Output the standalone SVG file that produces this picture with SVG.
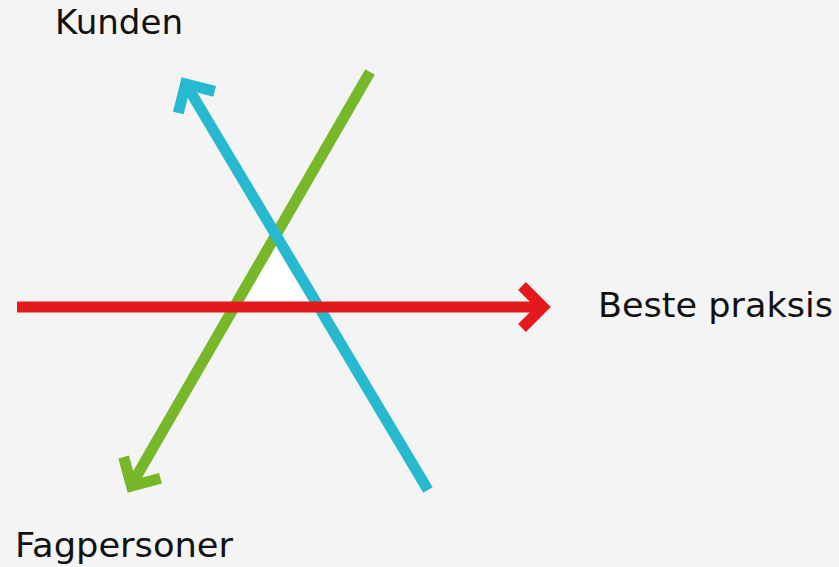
<svg xmlns="http://www.w3.org/2000/svg" width="839" height="567" viewBox="0 0 839 567">
<style>
.ln{fill:none;stroke-width:11;stroke-linecap:butt;stroke-linejoin:miter;stroke-miterlimit:10}
.g{stroke:#76b82a}.b{stroke:#27b9cf}.r{stroke:#e3191b}
.t{font-family:"DejaVu Sans","Liberation Sans",sans-serif;font-size:33px;fill:#111}
</style>
<rect width="839" height="567" fill="#f4f4f4"/>
<polygon points="275.6,236 234.6,307 318,307" fill="#ffffff"/>
<g id="connectors">
<g id="green-arrow">
<line class="ln g" x1="370" y1="72" x2="132" y2="484"/>
<polyline class="ln g" points="160.5,478.2 131.5,486 123.7,457"/>
</g>
<g id="blue-arrow">
<line class="ln b" x1="428" y1="490" x2="187" y2="86"/>
<polyline class="ln b" points="178.3,113 185.6,84 214.7,91.3"/>
</g>
<g id="red-arrow">
<line class="ln r" x1="17" y1="307" x2="541" y2="307"/>
<polyline class="ln r" points="522,286 543,307 522,328"/>
</g>
</g>
<g id="kunden"><text class="t" x="55" y="34" textLength="128" lengthAdjust="spacingAndGlyphs">Kunden</text></g>
<g id="beste-praksis"><text class="t" x="598" y="317" textLength="235" lengthAdjust="spacingAndGlyphs">Beste praksis</text></g>
<g id="fagpersoner"><text class="t" x="15" y="557" textLength="218" lengthAdjust="spacingAndGlyphs">Fagpersoner</text></g>
</svg>
